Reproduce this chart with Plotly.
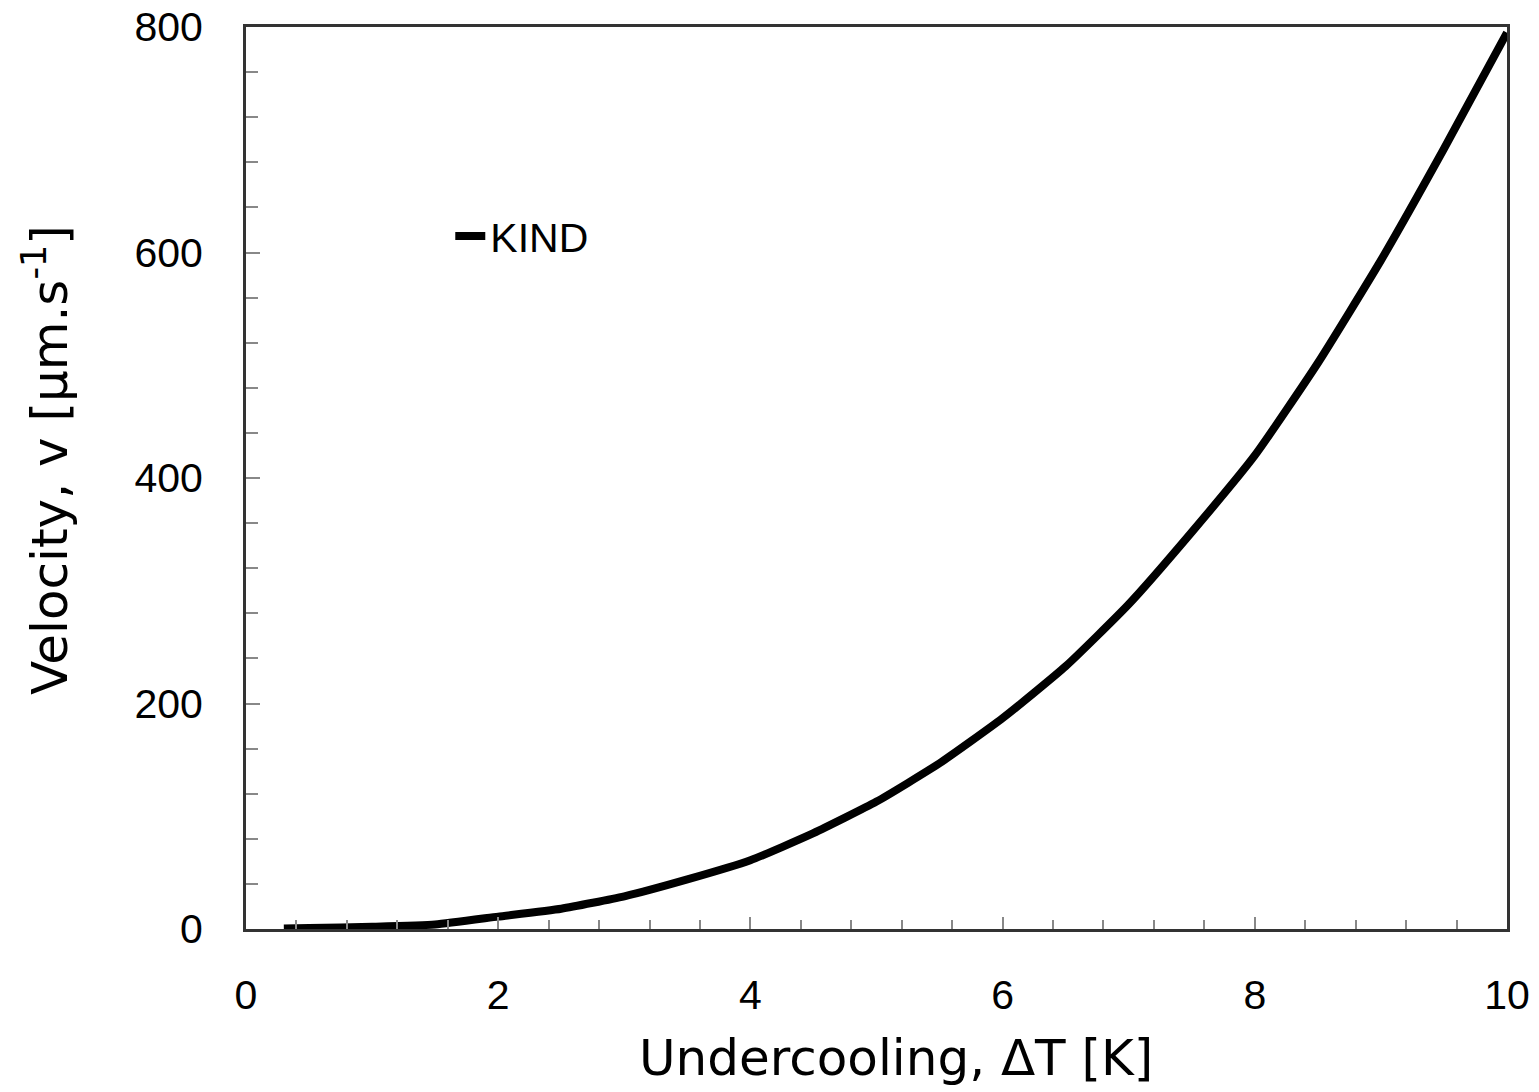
import plotly.graph_objects as go

# Data
undercooling = [0.3, 0.5, 1.0, 1.5, 2.0, 2.5, 3.0, 3.5, 4.0, 4.5, 5.0, 5.5, 6.0,
                6.5, 7.0, 7.5, 8.0, 8.5, 9.0, 9.5, 10.0]
velocity = [0.5, 0.8, 2, 4, 11, 18, 29, 44, 61, 85, 113, 147, 187,
            233, 288, 352, 420, 502, 593, 692, 795]
series_name = "KIND"
x_ticks = [0, 2, 4, 6, 8, 10]
y_ticks = [0, 200, 400, 600, 800]

tick_font = dict(family="Liberation Sans Narrow, Arial Narrow, Liberation Sans, sans-serif",
                 size=41, color="black")
title_font = dict(family="Century Gothic, DejaVu Sans, sans-serif", size=50, color="black")

fig = go.Figure()
fig.add_trace(go.Scatter(x=undercooling, y=velocity, mode="lines", name=series_name,
                         line=dict(color="black", width=8, shape="spline", smoothing=0.5)))

fig.update_layout(
    width=1539, height=1092,
    margin=dict(l=246, r=32, t=27, b=163, autoexpand=False),
    paper_bgcolor="white", plot_bgcolor="white",
    showlegend=True,
    legend=dict(x=0.162, y=0.768, xanchor="left", yanchor="middle",
                font=tick_font, bgcolor="rgba(0,0,0,0)", itemwidth=30),
    xaxis=dict(range=[0, 10], tickvals=x_ticks, ticks="inside", ticklen=12, tickwidth=2,
               tickcolor="#888", showgrid=False, zeroline=False, showline=True,
               linecolor="#333", linewidth=3, mirror=True, tickfont=tick_font,
               ticklabelstandoff=28, automargin=False,
               minor=dict(dtick=0.4, tick0=0, ticks="inside", ticklen=9, tickwidth=2,
                          tickcolor="#888", showgrid=False)),
    yaxis=dict(range=[0, 800], tickvals=y_ticks, ticks="inside", ticklen=14, tickwidth=2,
               tickcolor="#888", showgrid=False, zeroline=False, showline=True,
               linecolor="#333", linewidth=3, mirror=True, tickfont=tick_font,
               ticklabelstandoff=32, automargin=False,
               minor=dict(dtick=40, tick0=0, ticks="inside", ticklen=12, tickwidth=2,
                          tickcolor="#888", showgrid=False)),
    annotations=[
        dict(text="Undercooling, ΔT [K]", xref="paper", yref="paper",
             x=(896 - 246) / 1261, y=-(1058 - 929) / 902, xanchor="center", yanchor="middle",
             showarrow=False, font=title_font),
        dict(text="Velocity, v [µm.s<sup>-1</sup>]", xref="paper", yref="paper",
             x=-(246 - 46) / 1261, y=(929 - 460) / 902, xanchor="center", yanchor="middle",
             textangle=-90, showarrow=False, font=title_font),
    ],
)

fig.write_html("out.html")
